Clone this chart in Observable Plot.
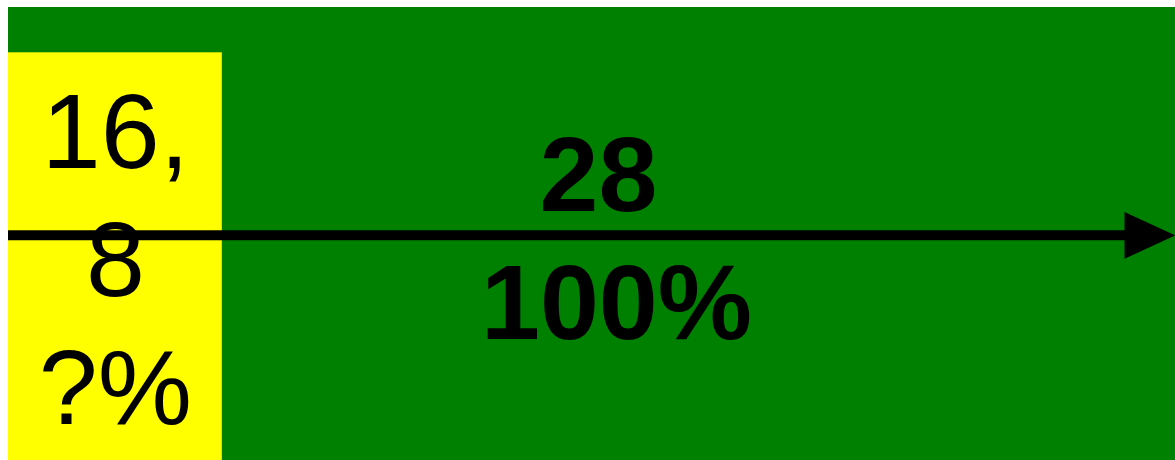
<!DOCTYPE html>
<html><head><meta charset="utf-8">
<script src="https://cdn.jsdelivr.net/npm/d3@7"></script>
<script src="https://cdn.jsdelivr.net/npm/@observablehq/plot@0.6"></script>
<style>html,body{margin:0;padding:0;background:#fff;overflow:hidden}</style>
</head><body><div id="chart"></div>
<script>
// ---- data ----
const categories = ["part", "total"];
const barStart = [0, 0];
const barEnd = [5.13, 28];
const barHeight = [90, 100];
const barColors = ["#ffff00", "#008000"];
const partLabel = ["16,", "8", "?%"];
const totalLabel = ["28", "100%"];
const arrowLevel = [49.7];
const arrowEnd = [28];

const bars = categories.map((c, i) => ({
  category: c, x1: barStart[i], x2: barEnd[i], h: barHeight[i], color: barColors[i]
})).sort((a, b) => b.h - a.h);

const headSymbol = {
  draw(ctx, size) {
    const r = Math.sqrt(size / Math.PI);
    ctx.moveTo(0, 0);
    ctx.lineTo(-2 * r, -0.92 * r);
    ctx.lineTo(-2 * r, 0.92 * r);
    ctx.closePath();
  }
};

const W = 1175, H = 460;
const chart = Plot.plot({
  width: W,
  height: H,
  marginLeft: 8,
  marginRight: 0,
  marginTop: 7,
  marginBottom: 0,
  style: {background: "#fff", fontFamily: "'Liberation Sans', Arial, sans-serif"},
  x: {domain: [0, arrowEnd[0]], axis: null},
  y: {domain: [0, 100], axis: null},
  marks: [
    Plot.rect(bars, {x1: "x1", x2: "x2", y1: 0, y2: "h", fill: "color"}),
    Plot.ruleY(arrowLevel.map((y, i) => ({y, x1: 0, x2: arrowEnd[i] * 0.965})),
      {y: "y", x1: "x1", x2: "x2", stroke: "black", strokeWidth: 10}),
    Plot.dot(arrowLevel.map((y, i) => ({y, x: arrowEnd[i]})),
      {x: "x", y: "y", symbol: headSymbol, r: 25.5, fill: "black", stroke: "none"}),
    Plot.text([partLabel.join("\n")], {
      x: () => (barStart[0] + barEnd[0]) / 2, frameAnchor: "bottom", dy: -37,
      text: d => d, lineAnchor: "bottom", lineHeight: 1.203,
      fontSize: 106, fontWeight: "normal", fill: "black", textAnchor: "middle"
    }),
    Plot.text([totalLabel[0]], {
      x: () => (barStart[1] + barEnd[1]) / 2, frameAnchor: "bottom", dy: -250, dx: 6.5,
      text: d => d, lineAnchor: "bottom",
      fontSize: 106, fontWeight: "bold", fill: "black", textAnchor: "middle"
    }),
    Plot.text([totalLabel[1]], {
      x: () => (barStart[1] + barEnd[1]) / 2, frameAnchor: "bottom", dy: -122, dx: 24.5,
      text: d => d, lineAnchor: "bottom",
      fontSize: 106, fontWeight: "bold", fill: "black", textAnchor: "middle"
    })
  ]
});
document.getElementById("chart").appendChild(chart);
</script>
</body></html>
